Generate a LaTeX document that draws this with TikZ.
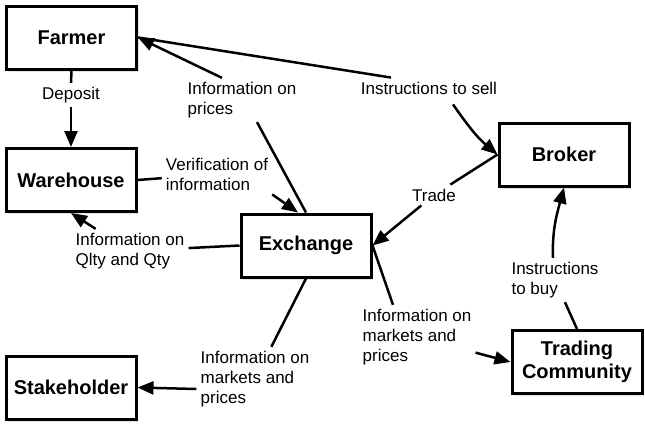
\documentclass[tikz,border=0pt]{standalone}
\usepackage{fontspec}
\setmainfont{Liberation Sans}
\usetikzlibrary{arrows.meta,shadows,calc}
\begin{document}
\begin{tikzpicture}[x=1pt,y=1pt,
 box/.style={draw, line width=3pt, fill=white, minimum width=130pt, minimum height=63pt,
   font=\fontsize{20}{23}\selectfont\bfseries, align=center, inner sep=0pt,
   drop shadow={opacity=0.22, shadow xshift=2pt, shadow yshift=-2.5pt}},
 lbl/.style={font=\fontsize{17}{20}\selectfont, align=left, inner sep=4pt},
 con/.style={line width=2.5pt},
 arr/.style={con, -{Triangle[length=16pt,width=13pt]}}
]
\useasboundingbox (0,0) rectangle (645,-423);

% boxes
\node[box] (fa) at (71.5,-37.5) {Farmer};
\node[box] (wh) at (71,-180) {Warehouse};
\node[box] (ex) at (306,-245.5) {Exchange};
\node[box] (st) at (71,-387.5) {Stakeholder};
\node[box] (br) at (564,-154.5) {Broker};
\node[box] (tc) at (577,-362) {Trading\\Community};

% labels
\node[lbl] (dep) at (71,-95) {Deposit};
\node[lbl] (ip) at (242,-100) {Information on\\prices};
\node[lbl] (is) at (429,-88) {Instructions to sell};
\node[lbl] (vf) at (217,-174) {Verification of\\information};
\node[lbl] (tr) at (434,-195) {Trade};
\node[lbl] (iq) at (130,-251) {Information on\\Qlty and Qty};
\node[lbl] (ism) at (255,-379) {Information on\\markets and\\prices};
\node[lbl] (itc) at (417,-337) {Information on\\markets and\\prices};
\node[lbl] (ib) at (555,-280) {Instructions\\to buy};

% connectors
\draw[con] (fa.south) -- (dep.north);
\draw[arr] (dep.south) -- (dep.south |- wh.north);

\draw[con] (ex.north) -- ([xshift=15pt]ip.south);
\draw[arr] ([xshift=-20pt]ip.north) -- (fa.east);

\draw[con] (fa.east) -- ([xshift=-38pt]is.north);
\draw[arr] ([xshift=24pt,yshift=-6pt]is.south) to[out=-55,in=140] (br.west);

\draw[con] (wh.east) -- (vf);
\draw[arr] (vf.south east) -- ([xshift=-8pt]ex.north);

\draw[con] (br.west) -- (tr);
\draw[arr] (tr) -- (ex.east);

\draw[con] (ex.west) -- (iq);
\draw[arr] (iq) -- (wh.south);

\draw[con] (ex.south) -- (ism);
\draw[arr] ([yshift=-10pt]ism.west) -- (st.east);

\draw[con] (ex.east) -- ([xshift=-24pt]itc.north);
\draw[arr] (itc) -- (tc.west);

\draw[con] (tc.north) -- (ib);
\draw[arr] ([xshift=-2pt]ib.north) to[out=92,in=-105] (br.south);
\end{tikzpicture}
\end{document}
